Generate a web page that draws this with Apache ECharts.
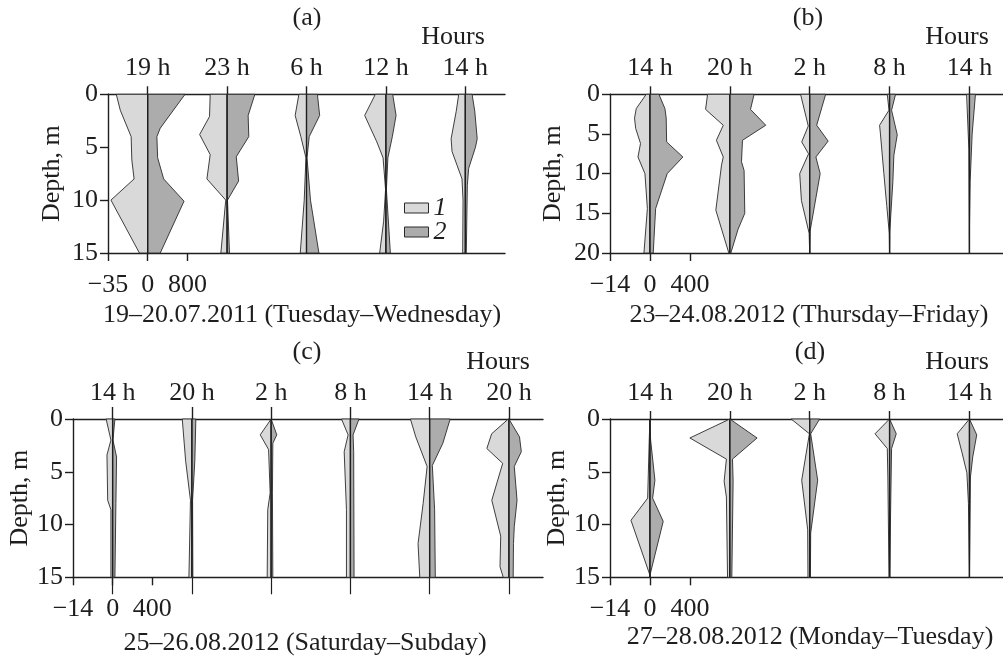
<!DOCTYPE html>
<html>
<head>
<meta charset="utf-8">
<script src="https://cdn.jsdelivr.net/npm/echarts@6/dist/echarts.min.js"></script>
<style>
  html, body { margin: 0; padding: 0; background: #fff; }
  #chart { width: 1003px; height: 658px; }
</style>
</head>
<body>
<div id="chart"></div>
<script>
// hour labels per panel
const hoursA = ['19 h', '23 h', '6 h', '12 h', '14 h']
const hoursB = ['14 h', '20 h', '2 h', '8 h', '14 h']
const hoursC = ['14 h', '20 h', '2 h', '8 h', '14 h', '20 h']
const hoursD = ['14 h', '20 h', '2 h', '8 h', '14 h']

// profiles: [depth m, value], group 1 (left) and group 2 (right)
const aGroup1 = [
  [[0, 27.7], [1.5, 24.2], [4, 14.6], [6.2, 14], [8, 12], [10, 32.4], [15, 7.3]],
  [[0, 14.9], [2.1, 15.5], [3.8, 24.2], [5.7, 14.9], [8, 17.8], [10, 1.2], [15, 5.5]],
  [[0, 6.7], [2, 10], [4, 5], [6, 0.5], [10, 2], [15, 5.5]],
  [[0, 9.3], [2, 18.7], [4.5, 8], [6, 2.5], [9, 0.3], [12, 2], [15, 5.5]],
  [[0, 5.8], [1.6, 8], [4.2, 12.5], [5.4, 11.7], [6.7, 7.3], [8, 2.9], [10, 2], [15, 2.3]]
]
const aGroup2 = [
  [[0, 752], [3.2, 253], [4, 185], [6, 200], [8, 322], [10.1, 732], [15, 253]],
  [[0, 560], [2, 424], [4, 437], [5.9, 185], [8.2, 232], [10, 8], [15, 48]],
  [[0, 220], [2, 265], [4, 55], [6, 10], [10, 80], [15, 250]],
  [[0, 137], [2, 205], [4, 130], [6, 40], [9, 10], [15, 90]],
  [[0, 137], [1.6, 191], [4.2, 240], [5, 205], [7, 68], [8.6, 41], [15, 20]]
]
const bGroup1 = [
  [[0, 1.3], [1.8, 4.8], [3, 5.4], [4.3, 5], [6.2, 3.3], [7.9, 4.2], [10, 1.75], [14.4, 0.9], [20, 2.1]],
  [[0, 7.8], [1.9, 8.5], [3.9, 2.3], [5.8, 4.7], [7.9, 2.3], [8.9, 2.9], [14.6, 4.9], [20, 0.35]],
  [[0, 3.2], [4, 0.5], [6, 2.8], [7.5, 0.4], [10, 3.5], [13.4, 2.9], [17.5, 0.2], [20, 0]],
  [[0, 0.8], [2, 0.2], [3.9, 3.5], [5, 3.2], [10, 2], [14, 1], [17.5, 0.1], [20, 0]],
  [[0, 1], [7, 0.2], [20, 0]]
]
const bGroup2 = [
  [[0, 90], [1.8, 150], [3, 163], [6, 167], [7.9, 330], [10, 173], [14.4, 57], [20, 33]],
  [[0, 243], [1.9, 207], [3.9, 360], [5.8, 127], [8.5, 117], [9.6, 143], [15, 150], [17, 83], [20, 10]],
  [[0, 160], [3.9, 70], [5.9, 185], [7.9, 62], [10, 105], [17.3, 3], [20, 0]],
  [[0, 60], [2, 20], [5.1, 77], [7.7, 43], [11, 33], [17.3, 2], [20, 0]],
  [[0, 60], [5, 27], [11, 7], [17, 0], [20, 0]]
]
const cGroup1 = [
  [[0, 2.3], [2, 0.6], [3.4, 2], [7.7, 1.75], [8.6, 0.6], [15, 0.6]],
  [[0, 3.4], [4, 2.2], [7.7, 0.5], [15, 1.05]],
  [[0, 0], [1.5, 3.85], [2.9, 0.9], [7, 0.35], [8.6, 1.2], [15, 1.4]],
  [[0, 3.15], [1.5, 0.8], [3.1, 2.2], [8.6, 1.4], [15, 1.4]],
  [[0, 6.8], [1.7, 4.9], [4.5, 0.9], [8, 2.3], [11.8, 4.1], [15, 3.5]],
  [[0, 0.2], [1.4, 6.1], [2.8, 7.8], [4.2, 2.2], [7.7, 6.05], [11.1, 2.9], [14, 3.15], [15, 2]]
]
const cGroup2 = [
  [[0, 23], [2, 3], [3.6, 40], [8, 33], [15, 23]],
  [[0, 40], [3.9, 30], [7.7, 7], [15, 10]],
  [[0, 0], [1.5, 57], [2.3, 17], [7, 13], [15, 17]],
  [[0, 87], [1.5, 27], [3.1, 33], [15, 37]],
  [[0, 207], [2.3, 133], [4.4, 27], [8.6, 50], [15, 57]],
  [[0, 0], [1.7, 107], [3.1, 125], [4.5, 54], [7.7, 82], [10.2, 54], [11.8, 46], [15, 43]]
]
const dGroup1 = [
  [[0, 0], [2, 0.25], [7.5, 0.8], [9.6, 6.65], [14.8, 0], [15, 0]],
  [[0, 0], [1.8, 14], [3.8, 1.2], [5.9, 2], [7.4, 1.2], [15, 0.8]],
  [[0, 6.5], [1.4, 0.1], [5.8, 2.8], [10.5, 0.7], [15, 0.6]],
  [[0, 0], [1.4, 5.1], [2.8, 0.8], [5.5, 0.6], [15, 0.2]],
  [[0, 0], [1.4, 4.3], [3.2, 2.6], [5.1, 0.9], [8, 0.35], [15, 0]]
]
const dGroup2 = [
  [[0, 0], [2, 7], [5.8, 50], [7.5, 27], [9.7, 133], [14.8, 0], [15, 0]],
  [[0, 0], [1.8, 273], [3.8, 27], [5.9, 33], [15, 20]],
  [[0, 100], [1.4, 10], [5.8, 80], [10.8, 10], [15, 7]],
  [[0, 0], [1.4, 67], [2.8, 20], [9, 10], [15, 3]],
  [[0, 0], [1.5, 73], [3.6, 33], [5.5, 10], [15, 0]]
]

const FONT = 'Liberation Serif'
const INK = '#1e1e1e'
const FILL1 = '#d9d9d9'
const FILL2 = '#acacac'

const panels = [
  { hours: hoursA, g1: aGroup1, g2: aGroup2, max1: 35, max2: 800, depth: 15,
    grid: { left: 108, top: 94.3, width: 397, height: 158.7 }, xMax: 4.5, nameGap: 43, topTick: 8, longTicks: false },
  { hours: hoursB, g1: bGroup1, g2: bGroup2, max1: 14, max2: 400, depth: 20,
    grid: { left: 610, top: 94.3, width: 393, height: 158.7 }, xMax: 4.42, nameGap: 44, topTick: 8, longTicks: false },
  { hours: hoursC, g1: cGroup1, g2: cGroup2, max1: 14, max2: 400, depth: 15,
    grid: { left: 73, top: 419, width: 470, height: 158.3 }, xMax: 5.43, nameGap: 35, topTick: 12, longTicks: true },
  { hours: hoursD, g1: dGroup1, g2: dGroup2, max1: 14, max2: 400, depth: 15,
    grid: { left: 610, top: 419, width: 393, height: 158.3 }, xMax: 4.42, nameGap: 39, topTick: 8, longTicks: false }
]

const axisLineStyle = { color: INK, width: 1.4 }
const labelFont = { fontFamily: FONT, fontSize: 26, color: INK }

// one side of a kite: profile drawn left (dir -1) or right (dir +1) of the hour line
function kiteSide (profiles, maxVal, dir, fill) {
  return function (params, api) {
    const k = api.value(0)
    const prof = profiles[k]
    const pts = prof.map(p => api.coord([k + dir * p[1] / maxVal * 0.5, p[0]]))
    pts.push(api.coord([k, prof[prof.length - 1][0]]))
    pts.push(api.coord([k, prof[0][0]]))
    return {
      type: 'polygon',
      shape: { points: pts },
      style: { fill: fill, stroke: '#2a2a2a', lineWidth: 0.9 }
    }
  }
}

function hourLine (maxDepth) {
  return function (params, api) {
    const k = api.value(0)
    const a = api.coord([k, 0])
    const b = api.coord([k, maxDepth])
    return {
      type: 'line',
      shape: { x1: a[0], y1: a[1], x2: b[0], y2: b[1] },
      style: { stroke: INK, lineWidth: 1.4 }
    }
  }
}

const grid = []
const xAxis = []
const yAxis = []
const series = []

panels.forEach((p, i) => {
  grid.push(Object.assign({ containLabel: false, outerBoundsMode: 'none' }, p.grid))
  const centers = p.hours.map((_, k) => k)
  const scaleTicks = [-0.5, 0, 0.5]
  const xb = xAxis.length

  xAxis.push({
    type: 'value', gridIndex: i, position: 'bottom', min: -0.5, max: p.xMax,
    axisLine: { show: true, onZero: false, lineStyle: axisLineStyle },
    axisTick: { show: true, customValues: scaleTicks, length: 8, lineStyle: axisLineStyle },
    axisLabel: {
      customValues: scaleTicks, margin: 19, ...labelFont,
      formatter: v => v < 0 ? '\u2212' + p.max1 : (v > 0 ? String(p.max2) : '0')
    },
    splitLine: { show: false }
  })
  xAxis.push({
    type: 'value', gridIndex: i, position: 'top', min: -0.5, max: p.xMax,
    axisLine: { show: true, onZero: false, lineStyle: axisLineStyle },
    axisTick: { show: true, customValues: centers, length: p.topTick, lineStyle: axisLineStyle },
    axisLabel: { customValues: centers, margin: 13, ...labelFont, formatter: v => p.hours[Math.round(v)] },
    splitLine: { show: false }
  })
  if (p.longTicks) {
    xAxis.push({
      type: 'value', gridIndex: i, position: 'bottom', min: -0.5, max: p.xMax,
      axisLine: { show: false, onZero: false },
      axisTick: { show: true, customValues: centers, length: 17, lineStyle: { color: INK, width: 1.2 } },
      axisLabel: { show: false },
      splitLine: { show: false }
    })
  }

  yAxis.push({
    type: 'value', gridIndex: i, inverse: true, min: 0, max: p.depth, interval: 5,
    name: 'Depth, m', nameLocation: 'middle', nameGap: p.nameGap,
    nameTextStyle: labelFont,
    axisLine: { show: true, onZero: false, lineStyle: axisLineStyle },
    axisTick: { show: true, length: 8, lineStyle: axisLineStyle },
    axisLabel: { margin: 10, ...labelFont },
    splitLine: { show: false }
  })

  const data = centers.map(k => [k, 0])
  series.push({
    type: 'custom', name: '1', xAxisIndex: xb, yAxisIndex: i, data: data,
    itemStyle: { color: FILL1 }, clip: false, silent: true, z: 2,
    renderItem: kiteSide(p.g1, p.max1, -1, FILL1)
  })
  series.push({
    type: 'custom', name: '2', xAxisIndex: xb, yAxisIndex: i, data: data,
    itemStyle: { color: FILL2 }, clip: false, silent: true, z: 2,
    renderItem: kiteSide(p.g2, p.max2, 1, FILL2)
  })
  series.push({
    type: 'custom', name: 'hour', xAxisIndex: xb, yAxisIndex: i, data: data,
    clip: false, silent: true, z: 3,
    renderItem: hourLine(p.depth)
  })
})

function txt (text, x, y) {
  return {
    type: 'text', x: x, y: y, silent: true,
    style: { text: text, fill: INK, font: '26px "' + FONT + '"', align: 'center', verticalAlign: 'middle' }
  }
}

const chart = echarts.init(document.getElementById('chart'), null, { renderer: 'canvas' })
chart.setOption({
  backgroundColor: '#fff',
  animation: false,
  grid: grid,
  xAxis: xAxis,
  yAxis: yAxis,
  series: series,
  legend: {
    data: ['1', '2'], left: 404, top: 195, orient: 'vertical', padding: 0,
    itemWidth: 24, itemHeight: 10, itemGap: -2, icon: 'rect', selectedMode: false,
    itemStyle: { borderColor: '#2a2a2a', borderWidth: 1 },
    textStyle: { fontFamily: FONT, fontSize: 26, fontStyle: 'italic', color: INK, lineHeight: 20 }
  },
  graphic: [
    txt('(a)', 307, 18), txt('Hours', 453, 37), txt('19\u201320.07.2011 (Tuesday\u2013Wednesday)', 302, 315),
    txt('(b)', 808, 18), txt('Hours', 957, 37), txt('23\u201324.08.2012 (Thursday\u2013Friday)', 809, 315),
    txt('(c)', 307, 352), txt('Hours', 498, 362), txt('25\u201326.08.2012 (Saturday\u2013Subday)', 305, 643),
    txt('(d)', 810, 352), txt('Hours', 957, 362), txt('27\u201328.08.2012 (Monday\u2013Tuesday)', 810, 637)
  ]
})
</script>
</body>
</html>
